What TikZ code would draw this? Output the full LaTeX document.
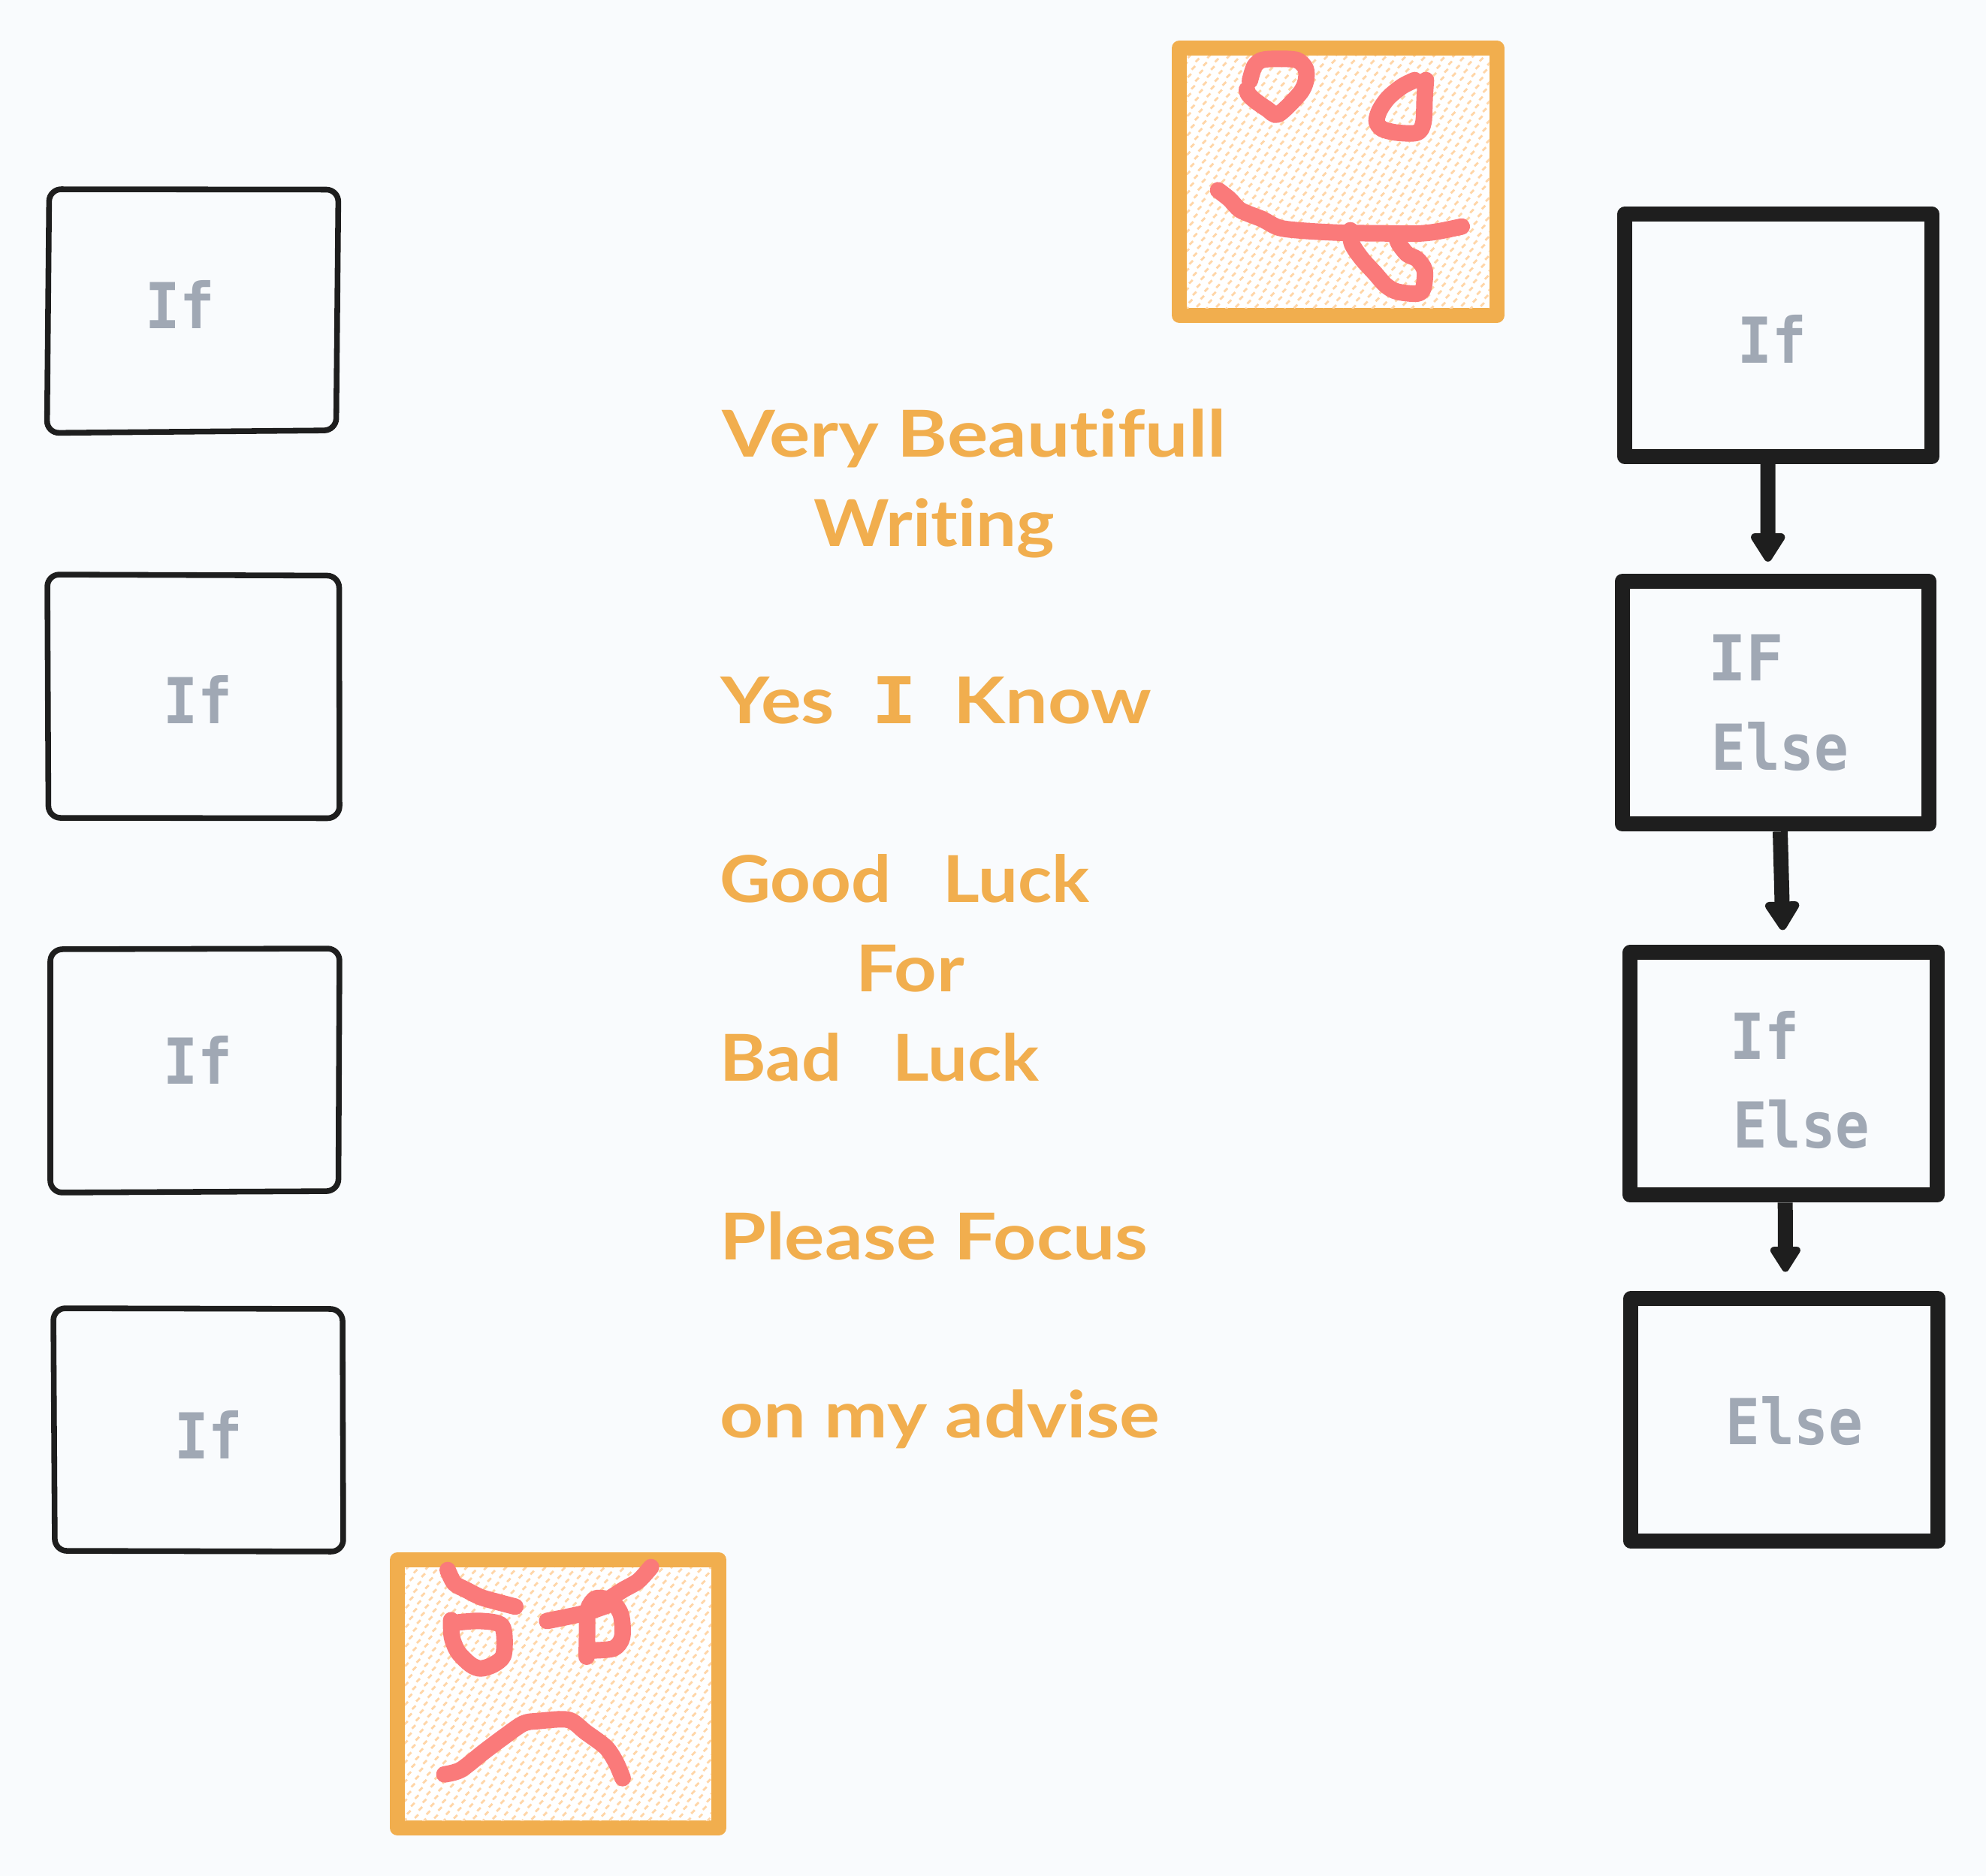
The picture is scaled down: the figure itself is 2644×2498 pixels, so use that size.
\documentclass[tikz,border=0pt]{standalone}
\usepackage{fontspec}
\usepackage{graphicx}
\usetikzlibrary{arrows.meta}
\setmainfont{Lato}[Ligatures=NoCommon]
\newfontfamily\grayfont{DejaVu Sans Mono}
\definecolor{bgc}{HTML}{F9FBFD}
\definecolor{inkc}{HTML}{1E1E1E}
\definecolor{orangec}{HTML}{F1AE4E}
\definecolor{hatchc}{HTML}{FFD6A8}
\definecolor{pinkc}{HTML}{FA7A7A}
\definecolor{grayc}{HTML}{A0A8B4}
\newcommand\fitw[2]{\resizebox{#1}{\height}{#2}}
\tikzset{
  x=0.02cm,y=-0.02cm,
  thinbox/.style={draw=inkc,line width=4.3pt,rounded corners=0.32cm,line join=round},
  thickbox/.style={draw=inkc,line width=0.4cm,line join=round,rectangle,minimum width=8.18cm,minimum height=6.46cm,fill=bgc,inner sep=0pt},
  facebox/.style={draw=orangec,line width=0.4cm,line join=round,fill=white},
  hatchline/.style={draw=hatchc,line width=1.6pt},
  stroke/.style={draw=pinkc,line width=0.44cm,line cap=round,line join=round},
  conn/.style={draw=inkc,line width=0.4cm},
  headA/.style={-{Triangle[length=0.86cm,width=1.02cm,line width=0.24cm,round]}},
  headB/.style={-{Triangle[length=0.76cm,width=0.9cm,line width=0.24cm,round]}},
  ortext/.style={inner sep=0pt,anchor=base west,text=orangec,font=\fontsize{49pt}{49pt}\selectfont\bfseries},
  grtext/.style={inner sep=0pt,anchor=base west,text=grayc,font=\fontsize{48pt}{48pt}\grayfont\bfseries},
}
\begin{document}
\begin{tikzpicture}
\useasboundingbox (0,0) rectangle (2644,2498);
\fill[bgc] (0,0) rectangle (2644,2498);

% left boxes
\draw[thinbox] (65.5,252) -- (450.5,252.5) -- (447.5,573) -- (62.5,576.5) -- cycle;
\draw[thinbox] (63,765) -- (451.5,766.5) -- (452,1089.5) -- (64.5,1089) -- cycle;
\draw[thinbox] (67,1264) -- (452,1263) -- (450.5,1586) -- (67,1588) -- cycle;
\draw[thinbox] (71,1742) -- (456,1743) -- (457,2066) -- (73,2065) -- cycle;
\node[grtext] (l1) at (193,437) {\fitw{1.86cm}{If}};
\node[grtext] (l2) at (217,963) {\fitw{1.84cm}{If}};
\node[grtext] (l3) at (217,1443) {\fitw{1.84cm}{If}};
\node[grtext] (l4) at (232,1942) {\fitw{1.82cm}{If}};

% top face
\draw[facebox] (1570,64) rectangle (1992.7,420);
\begin{scope}
\clip (1580,74) rectangle (1982.7,410);
\foreach \j in {-21,...,21}{
  \foreach \i in {-16,...,30}{
    \draw[hatchline] (1711.7+\i*10.3-\j*5.3-2.3,205.7+\i*5.3+\j*10.3+2.3) -- ++(4.6,-4.6);
  }
}
\end{scope}
\begin{scope}[shift={(1520,30)},scale=0.33333]
\draw[stroke] plot[smooth] coordinates {(432,232)(450,175)(480,150)(540,145)(620,150)(655,185)(655,235)(630,285)(545,367)(500,345)(450,310)(425,285)(420,268)};
\draw[stroke] plot[smooth] coordinates {(1135,230)(1130,300)(1125,400)(1100,440)(1020,440)(960,425)(938,395)(950,350)(985,300)(1040,255)(1090,230)};
\draw[stroke] plot[smooth] coordinates {(305,670)(350,705)(395,750)(480,785)(550,820)(650,832)(800,840)(950,842)(1100,843)(1180,835)(1278,815)};
\draw[stroke] plot[smooth] coordinates {(833,830)(840,885)(880,945)(930,1000)(975,1050)(1020,1075)(1100,1083)(1125,1060)(1130,990)(1100,945)(1060,925)(1025,880)(1015,845)};
\end{scope}

% bottom face
\draw[facebox] (529,2077) rectangle (957,2434);
\begin{scope}
\clip (539,2087) rectangle (947,2424);
\foreach \j in {-22,...,22}{
  \foreach \i in {-23,...,23}{
    \draw[hatchline] (743+\i*10.3-\j*5.3-2.3,2255+\i*5.3+\j*10.3+2.3) -- ++(4.6,-4.6);
  }
}
\end{scope}
\begin{scope}[shift={(500,2040)},scale=0.33333]
\draw[stroke] plot[smooth] coordinates {(288,152)(315,205)(360,230)(420,260)(490,280)(558,298)};
\draw[stroke] plot[smooth] coordinates {(1100,140)(1050,195)(990,230)(940,262)};
\draw[stroke] plot[smooth] coordinates {(685,355)(760,340)(840,322)(920,295)};
\draw[stroke] plot[smooth] coordinates {(843,498)(845,400)(848,310)(880,265)(940,275)(980,330)(985,420)(950,465)(860,473)};
\draw[stroke] plot[smooth] coordinates {(302,352)(305,420)(330,480)(380,530)(420,545)(470,530)(510,495)(515,420)(505,375)(470,360)(400,355)(320,362)};
\draw[stroke] plot[smooth] coordinates {(275,968)(340,950)(430,880)(510,820)(590,765)(650,755)(770,750)(840,800)(920,860)(960,920)(987,983)};
\end{scope}

% centre text
\node[ortext] (t1) at (961,608) {\fitw{13.42cm}{Very Beautifull}};
\node[ortext] (t2) at (1083,727) {\fitw{6.42cm}{Writing}};
\node[ortext] (t3) at (959,963) {\fitw{11.48cm}{Yes\ \ {\grayfont I}\ \ Know}};
\node[ortext] (t4) at (958,1201) {\fitw{9.84cm}{Good\ \ \ Luck}};
\node[ortext] (t5) at (1139,1320) {\fitw{2.9cm}{For}};
\node[ortext] (t6) at (958,1439) {\fitw{8.5cm}{Bad\ \ \ Luck}};
\node[ortext] (t7) at (958,1677) {\fitw{11.4cm}{Please Focus}};
\node[ortext] (t8) at (958,1914) {\fitw{11.72cm}{on my advise}};

% right boxes
\node[thickbox] (bA) at (2367.7,446.5) {};
\node[thickbox] (bB) at (2364,935.8) {};
\node[thickbox] (bC) at (2374.7,1429.8) {};
\node[thickbox] (bD) at (2375.7,1890.5) {};
\draw[conn,headA,shorten >=0.33cm] ([xshift=-0.28cm]bA.south) -- ([xshift=-0.206cm]bB.north);
\draw[conn,headA,shorten >=0.4cm] ([xshift=0.12cm]bB.south) -- ([xshift=-0.014cm]bC.north);
\draw[conn,headB,shorten >=0.51cm] ([xshift=0.04cm]bC.south) -- ([xshift=0.026cm]bD.north);
\node[grtext] (rA) at (2313,483) {\fitw{1.83cm}{If}};
\node[grtext] (rB1) at (2274,906) {\fitw{2.02cm}{IF}};
\node[grtext] (rB2) at (2278,1025) {\fitw{3.66cm}{Else}};
\node[grtext] (rC1) at (2303,1410) {\fitw{1.84cm}{If}};
\node[grtext] (rC2) at (2307,1528) {\fitw{3.64cm}{Else}};
\node[grtext] (rD) at (2297,1923) {\fitw{3.66cm}{Else}};
\end{tikzpicture}
\end{document}
